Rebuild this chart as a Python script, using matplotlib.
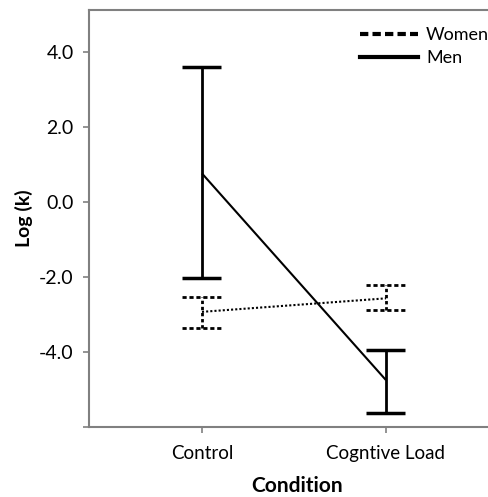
import matplotlib
matplotlib.use("Agg")
import matplotlib.pyplot as plt
from matplotlib.lines import Line2D
import numpy as np

plt.rcParams['font.family'] = ['Lato', 'DejaVu Sans']

conditions = ["Control", "Cogntive Load"]
men_mean = [0.75, -4.76]
men_upper = [3.60, -3.96]
men_lower = [-2.05, -5.65]
women_mean = [-2.94, -2.58]
women_upper = [-2.55, -2.23]
women_lower = [-3.36, -2.88]
yticks = [-6, -4, -2, 0, 2, 4]
ytick_labels = ["", "-4.0", "-2.0", "0.0", "2.0", "4.0"]

fig = plt.figure(figsize=(4.89, 4.97), dpi=100)
ax = fig.add_axes([89/489, 1-427/497, 1-89/489, (427-10)/497])

x = np.arange(len(conditions))
cap = 0.106

# Men
ax.plot(x, men_mean, color='black', lw=1.5, solid_capstyle='butt')
ax.vlines(x, men_lower, men_upper, color='black', lw=2.0)
ax.hlines(men_upper, x-cap, x+cap, color='black', lw=2.5)
ax.hlines(men_lower, x-cap, x+cap, color='black', lw=2.5)

# Women
ax.plot(x, women_mean, color='black', lw=1.5, linestyle=(0, (1, 1)))
ax.vlines(x, women_lower, women_upper, color='black', lw=2.0, linestyle=(0, (1.2, 1)))
ax.hlines(women_upper, x-cap, x+cap, color='black', lw=2.0, linestyle=(0, (1.5, 1)))
ax.hlines(women_lower, x-cap, x+cap, color='black', lw=2.0, linestyle=(0, (1.5, 1)))

ax.set_xlim(-0.614, 1.56)
ax.set_ylim(-6.01, 5.107)
ax.set_xticks(x)
ax.set_xticklabels(conditions, fontsize=13.5)
ax.set_yticks(yticks)
ax.set_yticklabels(ytick_labels, fontsize=14)

for s in ['left', 'bottom', 'top']:
    ax.spines[s].set_color('#808080')
    ax.spines[s].set_linewidth(1.5)
ax.spines['right'].set_visible(False)
ax.tick_params(axis='both', color='#808080', width=1.2, length=4, direction='out')
ax.tick_params(axis='x', pad=9)
ax.tick_params(axis='y', pad=7)

fig.text(24/489, 1-218/497, "Log (k)", rotation=90, fontsize=14, fontweight='bold',
         ha='center', va='center')
fig.text(297/489, 1-486/497, "Condition", fontsize=15, fontweight='bold',
         ha='center', va='center')

handles = [Line2D([], [], color='black', lw=3, linestyle=(0, (2, 1))),
           Line2D([], [], color='black', lw=3)]
leg = fig.legend(handles, ["Women", "Men"], loc='upper left',
                 bbox_to_anchor=(360/489, 1-27/497), frameon=False, fontsize=13,
                 handlelength=3.2, handletextpad=0.45, labelspacing=0.4,
                 borderpad=0, borderaxespad=0)

fig.savefig("out.png", dpi=100)
